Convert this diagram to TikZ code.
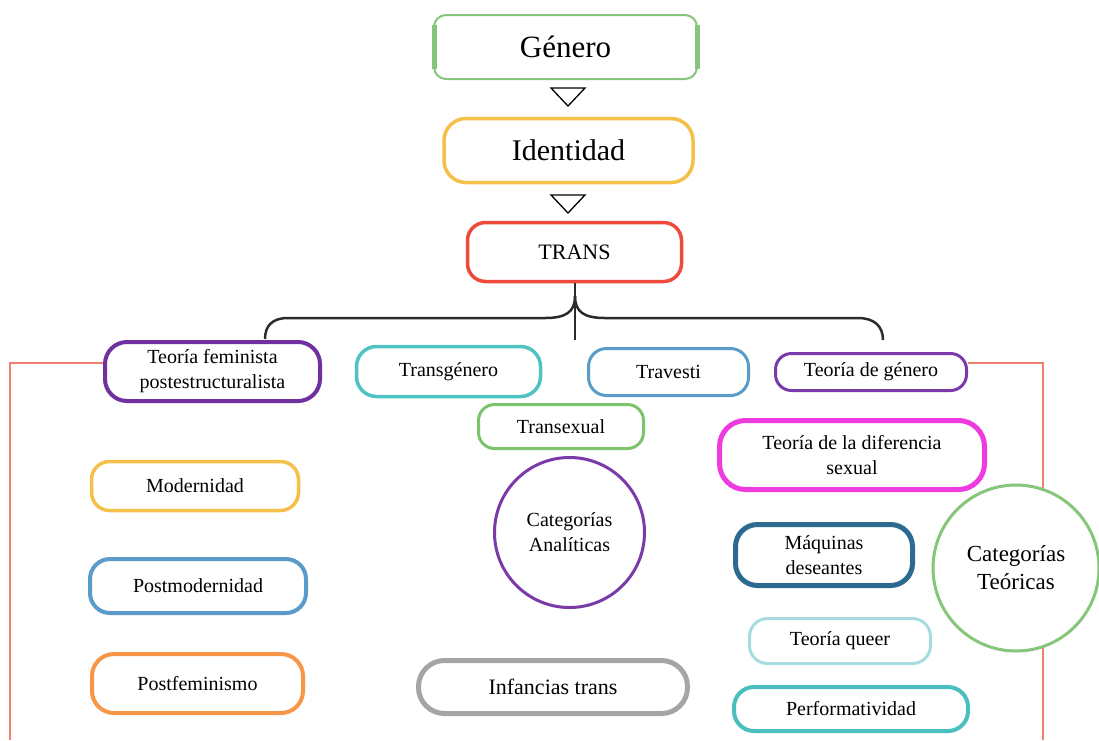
\documentclass[tikz,border=0pt]{standalone}
\usepackage{fontspec}
\setmainfont{Liberation Serif}
\usetikzlibrary{positioning}
\definecolor{cgreen}{HTML}{86C67A}
\definecolor{corange}{HTML}{F5C04A}
\definecolor{cred}{HTML}{EE4A3B}
\definecolor{cpurple}{HTML}{7030A0}
\definecolor{cpurple2}{HTML}{7A3BA8}
\definecolor{cteal}{HTML}{4EC3C3}
\definecolor{cblue}{HTML}{5B9BC9}
\definecolor{cgreen2}{HTML}{7DC36B}
\definecolor{cgray}{HTML}{A5A5A5}
\definecolor{cmagenta}{HTML}{EE3ADF}
\definecolor{cdblue}{HTML}{2D6A8F}
\definecolor{clteal}{HTML}{A6DCDF}
\definecolor{cteal2}{HTML}{4BBFBF}
\definecolor{cpeach}{HTML}{F79646}
\definecolor{cline}{HTML}{F08070}
\definecolor{cbrace}{HTML}{2B2B2B}
\tikzset{
  box/.style={draw=#1, rounded corners=18pt, fill=white, inner sep=0pt, align=center,
    font=\fontsize{20}{25}\selectfont, text=black},
  circ/.style={draw=#1, circle, fill=white, inner sep=0pt, align=center, line width=3pt,
    font=\fontsize{20}{25}\selectfont, text=black},
  redline/.style={draw=cline, line width=1.5pt},
  bracel/.style={draw=cbrace, line width=2.5pt},
  tri/.style={draw=black, line width=1.3pt, fill=white, line join=miter}
}
\begin{document}
\begin{tikzpicture}[x=1pt,y=-1pt]
\useasboundingbox (0,0) rectangle (1099,740);

% top chain
\node[box=cgreen, line width=2pt, rounded corners=12pt, minimum width=263pt, minimum height=64pt,
  font=\fontsize{31}{36}\selectfont] (genero) at (565.5,47) {Género};
\draw[cgreen, line width=5pt] ([xshift=1pt,yshift=22pt]genero.west) -- ([xshift=1pt,yshift=-22pt]genero.west);
\draw[cgreen, line width=5pt] ([xshift=-1pt,yshift=22pt]genero.east) -- ([xshift=-1pt,yshift=-22pt]genero.east);
\node[box=corange, line width=3.5pt, rounded corners=22pt, minimum width=249pt, minimum height=64pt,
  font=\fontsize{30}{36}\selectfont] (identidad) at (568.5,150.5) {Identidad};
\node[box=cred, line width=3.5pt, minimum width=214pt, minimum height=59pt,
  font=\fontsize{22}{26}\selectfont] (trans) at (574.5,252) {TRANS};

\draw[tri] (551,88) -- (585,88) -- (568,106) -- cycle;
\draw[tri] (551,195) -- (585,195) -- (568,213) -- cycle;

% brace
\coordinate (stem) at (575,340);
\coordinate (bl) at (265,339);
\coordinate (br) at (883,340);
\draw[bracel] (trans.south -| stem) -- (stem);
\draw[bracel] (575,296) .. controls (575,312) and (566,318) .. (545,318) -- (288,318)
  .. controls (272,318) and (265,326) .. (bl);
\draw[bracel] (575,296) .. controls (575,312) and (584,318) .. (605,318) -- (858,318)
  .. controls (874,318) and (883,326) .. (br);

% red connector lines
\coordinate (lend) at (10,740);
\coordinate (rend) at (1043,740);

% left column
\node[box=cpurple, line width=4pt, rounded corners=22pt, minimum width=215pt, minimum height=59pt]
  (feminista) at (212.5,371.5) {Teoría feminista\\postestructuralista};
\draw[redline] ([yshift=8.5pt]feminista.west) -| (lend);
\node[box=corange, line width=3.5pt, minimum width=207pt, minimum height=49pt] (modernidad) at (195,486) {Modernidad};
\node[box=cblue, line width=4pt, rounded corners=20pt, minimum width=216pt, minimum height=54pt] (postmod) at (198,586) {Postmodernidad};
\node[box=cpeach, line width=4pt, rounded corners=22pt, minimum width=211pt, minimum height=59pt] (postfem) at (197.5,683.5) {Postfeminismo};

% centre column
\node[box=cteal, line width=3.5pt, rounded corners=20pt, minimum width=184pt, minimum height=50pt] (transgenero) at (448.5,371.5) {Transgénero};
\node[box=cblue, line width=3pt, minimum width=160pt, minimum height=47pt] (travesti) at (668.5,372) {Travesti};
\node[box=cgreen2, line width=3pt, rounded corners=16pt, minimum width=165pt, minimum height=44pt] (transexual) at (561,426.5) {Transexual};
\node[circ=cpurple2, minimum size=150pt] (catan) at (569.5,532.5) {Categorías\\Analíticas};
\node[box=cgray, line width=5pt, rounded corners=26pt, minimum width=269pt, minimum height=53pt,
  font=\fontsize{22}{26}\selectfont] (infancias) at (553,687) {Infancias trans};

% right column
\node[box=cpurple2, line width=3pt, rounded corners=16pt, minimum width=191pt, minimum height=37pt] (tgenero) at (871,372) {Teoría de género};
\draw[redline] ([yshift=9pt]tgenero.east) -| (rend);
\node[box=cmagenta, line width=5pt, rounded corners=26pt, minimum width=265pt, minimum height=69pt] (diferencia) at (852,455) {Teoría de la diferencia\\sexual};
\node[box=cdblue, line width=5pt, rounded corners=22pt, minimum width=177pt, minimum height=61pt] (maquinas) at (824,555) {Máquinas\\deseantes};
\node[circ=cgreen, minimum size=166pt, font=\fontsize{23}{28}\selectfont] (catteo) at (1016,568) {Categorías\\Teóricas};
\node[box=clteal, line width=3pt, minimum width=181pt, minimum height=45pt] (queer) at (840,641) {Teoría queer};
\node[box=cteal2, line width=4pt, rounded corners=20pt, minimum width=234pt, minimum height=44pt] (perf) at (851,709) {Performatividad};
\end{tikzpicture}
\end{document}
